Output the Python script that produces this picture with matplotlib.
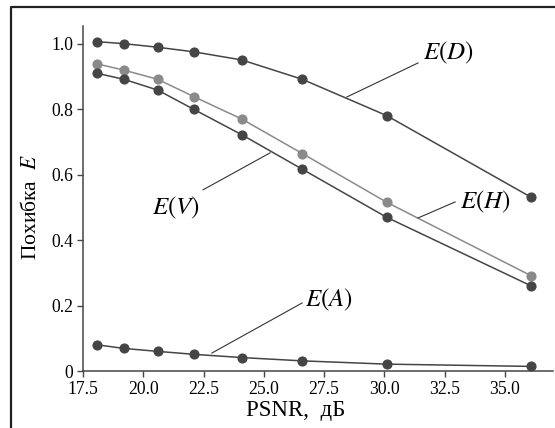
import numpy as np
import matplotlib
matplotlib.use("Agg")
import matplotlib.pyplot as plt
from matplotlib.lines import Line2D
from matplotlib.ticker import FuncFormatter

plt.rcParams['font.family'] = ['Liberation Serif', 'DejaVu Serif']
plt.rcParams['mathtext.fontset'] = 'stix'

# PSNR, dB
psnr = [18.1, 19.2, 20.6, 22.1, 24.1, 26.6, 30.1, 36.1]
e_d = [1.007, 1.001, 0.990, 0.976, 0.951, 0.892, 0.781, 0.531]
e_h = [0.939, 0.920, 0.892, 0.839, 0.770, 0.665, 0.516, 0.291]
e_v = [0.910, 0.892, 0.859, 0.800, 0.722, 0.617, 0.470, 0.260]
e_a = [0.080, 0.069, 0.060, 0.051, 0.041, 0.031, 0.021, 0.014]

xticks = [17.5, 20.0, 22.5, 25.0, 27.5, 30.0, 32.5, 35.0]
yticks = [0, 0.2, 0.4, 0.6, 0.8, 1.0]

dark = '#454545'
light = '#8a8a8a'

fig = plt.figure(figsize=(5.55, 4.28), dpi=100)
ax = fig.add_axes([83/555, 1 - 371/428, 470/555, 345/428])

ax.plot(psnr, e_d, '-o', color=dark, lw=1.1, ms=6.3)
ax.plot(psnr, e_h, '-o', color=light, lw=1.1, ms=6.3)
ax.plot(psnr, e_v, '-o', color=dark, lw=1.1, ms=6.3)
ax.plot(psnr, e_a, '-o', color=dark, lw=1.1, ms=6.3)

ax.set_xlim(17.5, 37.0)
ax.set_ylim(0, 1.055)
ax.set_xticks(xticks)
ax.set_yticks(yticks)
ax.xaxis.set_major_formatter(FuncFormatter(lambda v, p: '%.1f' % v))
ax.yaxis.set_major_formatter(FuncFormatter(lambda v, p: '0' if v == 0 else '%.1f' % v))
ax.tick_params(labelsize=12.7, length=4, width=1, color=dark, direction='out', pad=3)

for s in ['top', 'right']:
    ax.spines[s].set_visible(False)
for s in ['left', 'bottom']:
    ax.spines[s].set_color(dark)
    ax.spines[s].set_linewidth(1.1)

ax.set_xlabel('PSNR,  дБ', fontsize=16.5, labelpad=1)
ax.xaxis.set_label_coords(0.452, -0.085)
ax.set_ylabel('Похибка  $E$', fontsize=15.5)
ax.yaxis.set_label_coords(-0.090, 0.475)

# curve labels with leader lines
def mark(text, p0, p1, tpos, ha):
    ax.plot([p0[0], p1[0]], [p0[1], p1[1]], color='#333333', lw=0.8)
    ax.text(tpos[0], tpos[1], text, fontsize=18, ha=ha, va='center')

mark('$E(D)$', (28.45, 0.838), (31.4, 0.942), (31.6, 0.972), 'left')
mark('$E(H)$', (31.4, 0.468), (32.94, 0.517), (33.14, 0.517), 'left')
mark('$E(V)$', (22.48, 0.554), (25.26, 0.667), (22.36, 0.498), 'right')
mark('$E(A)$', (22.85, 0.055), (26.59, 0.208), (26.71, 0.217), 'left')

# frame on left and top
fig.add_artist(Line2D([11/555, 11/555, 1.0], [0, 1 - 7/428, 1 - 7/428],
                      transform=fig.transFigure, color='#222222', lw=1.6))

fig.savefig('out.png', dpi=100)
